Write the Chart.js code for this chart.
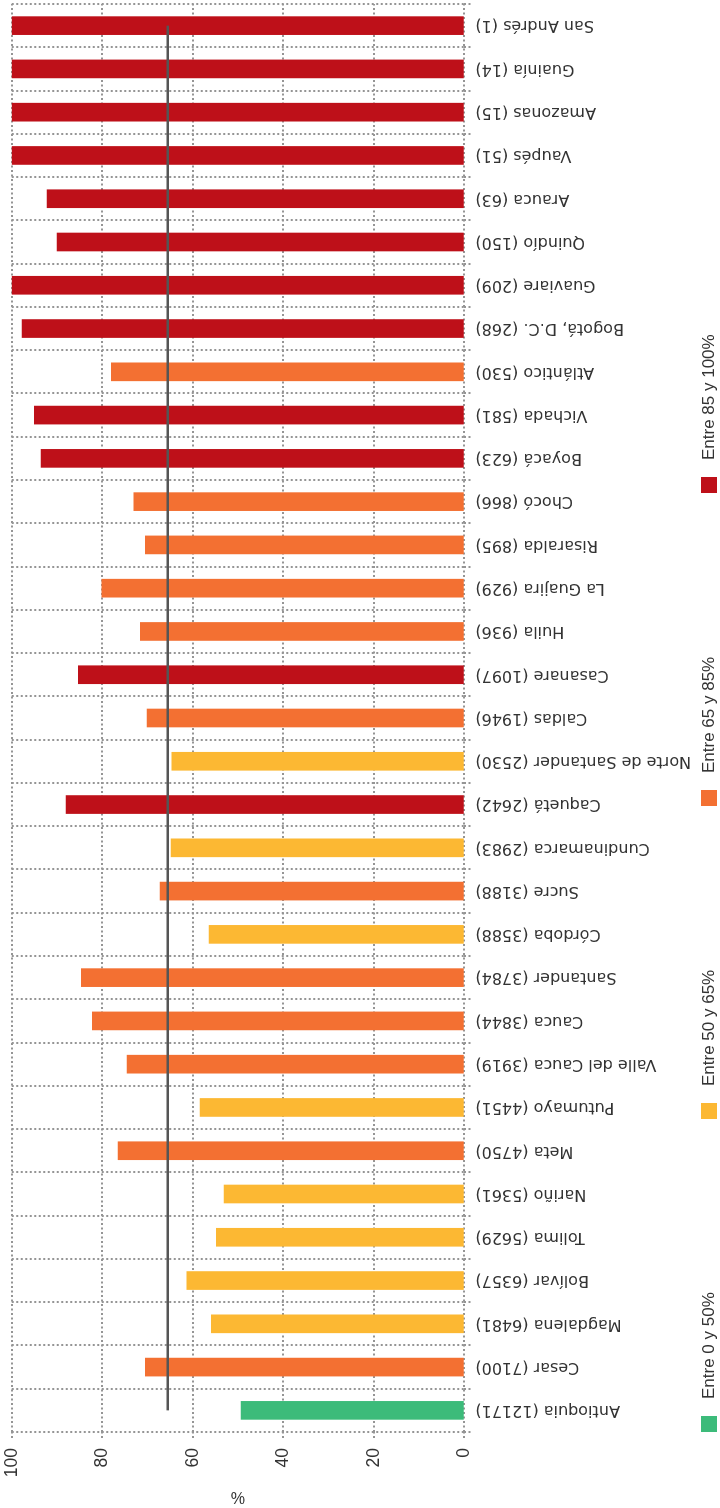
<!DOCTYPE html>
<html>
<head>
<meta charset="utf-8">
<script src="https://cdn.jsdelivr.net/npm/chart.js@4/dist/chart.umd.min.js"></script>
<style>
  html, body { margin: 0; padding: 0; background: #fff; overflow: hidden; }
  #wrap {
    position: absolute; left: 0; top: 0;
    width: 1508px; height: 720px;
    transform-origin: 0 0;
    transform: translateY(1508px) rotate(-90deg);
  }
</style>
</head>
<body>
<div id="wrap"><canvas id="coverage" width="1508" height="720"></canvas></div>
<script>
var departments = [
  'Antioquia (12171)', 'Cesar (7100)', 'Magdalena (6481)', 'Bolívar (6357)',
  'Tolima (5629)', 'Nariño (5361)', 'Meta (4750)', 'Putumayo (4451)',
  'Valle del Cauca (3919)', 'Cauca (3844)', 'Santander (3784)', 'Córdoba (3588)',
  'Sucre (3188)', 'Cundinamarca (2983)', 'Caquetá (2642)', 'Norte de Santander (2530)',
  'Caldas (1946)', 'Casanare (1097)', 'Huila (936)', 'La Guajira (929)',
  'Risaralda (895)', 'Chocó (866)', 'Boyacá (623)', 'Vichada (581)',
  'Atlántico (530)', 'Bogotá, D.C. (268)', 'Guaviare (209)', 'Quindío (150)',
  'Arauca (63)', 'Vaupés (51)', 'Amazonas (15)', 'Guainía (14)', 'San Andrés (1)'
];

var coverage = [
  49.3, 70.5, 55.9, 61.3,
  54.8, 53.1, 76.5, 58.4,
  74.5, 82.2, 84.6, 56.4,
  67.2, 64.8, 88.0, 64.6,
  70.1, 85.3, 71.6, 80.1,
  70.5, 73.0, 93.5, 95.0,
  78.0, 97.7, 100, 90.0,
  92.2, 100, 100, 100, 100
];

// 0: 0-50, 1: 50-65, 2: 65-85, 3: 85-100
var groupOf = [
  0, 2, 1, 1,
  1, 1, 2, 1,
  2, 2, 2, 1,
  2, 1, 3, 1,
  2, 3, 2, 2,
  2, 2, 3, 3,
  2, 3, 3, 3,
  3, 3, 3, 3, 3
];

var groupLabels = ['Entre 0 y 50%', 'Entre 50 y 65%', 'Entre 65 y 85%', 'Entre 85 y 100%'];
var yTicks = [0, 20, 40, 60, 80, 100];
var average = 65.5;

var groupColors = ['#3cbb7a', '#fcb833', '#f37032', '#be1019'];
var gridColor = '#959595';

function groupSeries(g)
{
  return coverage.map(function(v, i) { return groupOf[i] === g ? v : null; });
}

var groupLegend = {
  id: 'groupLegend',
  afterDraw: function(chart) {
    var ctx = chart.ctx;
    var left = chart.chartArea.left;
    ctx.save();
    ctx.font = '17px "Liberation Sans", Arial, sans-serif';
    ctx.textBaseline = 'middle';
    ctx.textAlign = 'left';
    groupLabels.forEach(function(label, i) {
      var x = left + i * 313;
      ctx.fillStyle = groupColors[i];
      ctx.fillRect(x, 701, 16, 16);
      ctx.fillStyle = '#333';
      ctx.fillText(label, x + 33, 709.5);
    });
    ctx.restore();
  }
};

var datasets = [{
  type: 'line',
  label: 'Promedio',
  data: [
    {x: departments[0], y: average},
    {x: departments[departments.length - 1], y: average}
  ],
  borderColor: '#555',
  borderWidth: 2.5,
  pointRadius: 0,
  order: 0
}];

groupLabels.forEach(function(label, g) {
  datasets.push({
    type: 'bar',
    label: label,
    data: groupSeries(g),
    backgroundColor: groupColors[g],
    borderWidth: 0,
    barThickness: 18,
    grouped: false,
    order: 1
  });
});

var ctx = document.getElementById('coverage');
var coverageChart = new Chart(ctx, {
  type: 'bar',
  data: { labels: departments, datasets: datasets },
  options: {
    responsive: false,
    animation: false,
    devicePixelRatio: 1,
    layout: { padding: { top: 11.7, right: 4, bottom: 0, left: 0 } },
    plugins: {
      legend: { display: false },
      tooltip: { enabled: false }
    },
    scales: {
      x: {
        offset: true,
        grid: {
          offset: true,
          color: gridColor,
          lineWidth: 2,
          tickLength: 8,
          tickColor: gridColor,
          tickWidth: 2,
          tickBorderDash: [2, 2.5]
        },
        border: { display: false, dash: [2, 2.5] },
        ticks: {
          autoSkip: false,
          minRotation: 90,
          maxRotation: 90,
          padding: 3,
          color: '#333',
          font: { family: '"DejaVu Sans", sans-serif', size: 16 }
        },
        afterFit: function(scale) {
          scale.height = 255.7;
          scale.paddingLeft = 0;
          scale.paddingRight = 0;
        }
      },
      y: {
        min: 0,
        max: 100,
        afterBuildTicks: function(scale) {
          scale.ticks = yTicks.map(function(v) { return {value: v}; });
        },
        grid: {
          color: gridColor,
          lineWidth: 2,
          tickLength: 6,
          tickColor: gridColor,
          tickWidth: 2,
          tickBorderDash: [2, 2.5]
        },
        border: { display: false, dash: [2, 2.5] },
        ticks: {
          padding: 10,
          color: '#333',
          font: { family: '"Liberation Sans", Arial, sans-serif', size: 17.5 }
        },
        title: {
          display: true,
          text: '%',
          color: '#333',
          padding: { top: 2, bottom: 0 },
          font: { family: '"Liberation Sans", Arial, sans-serif', size: 16 }
        },
        afterFit: function(scale) {
          scale.width = 76;
          scale.paddingTop = 0;
          scale.paddingBottom = 0;
        }
      }
    }
  },
  plugins: [groupLegend]
});
</script>
</body>
</html>
